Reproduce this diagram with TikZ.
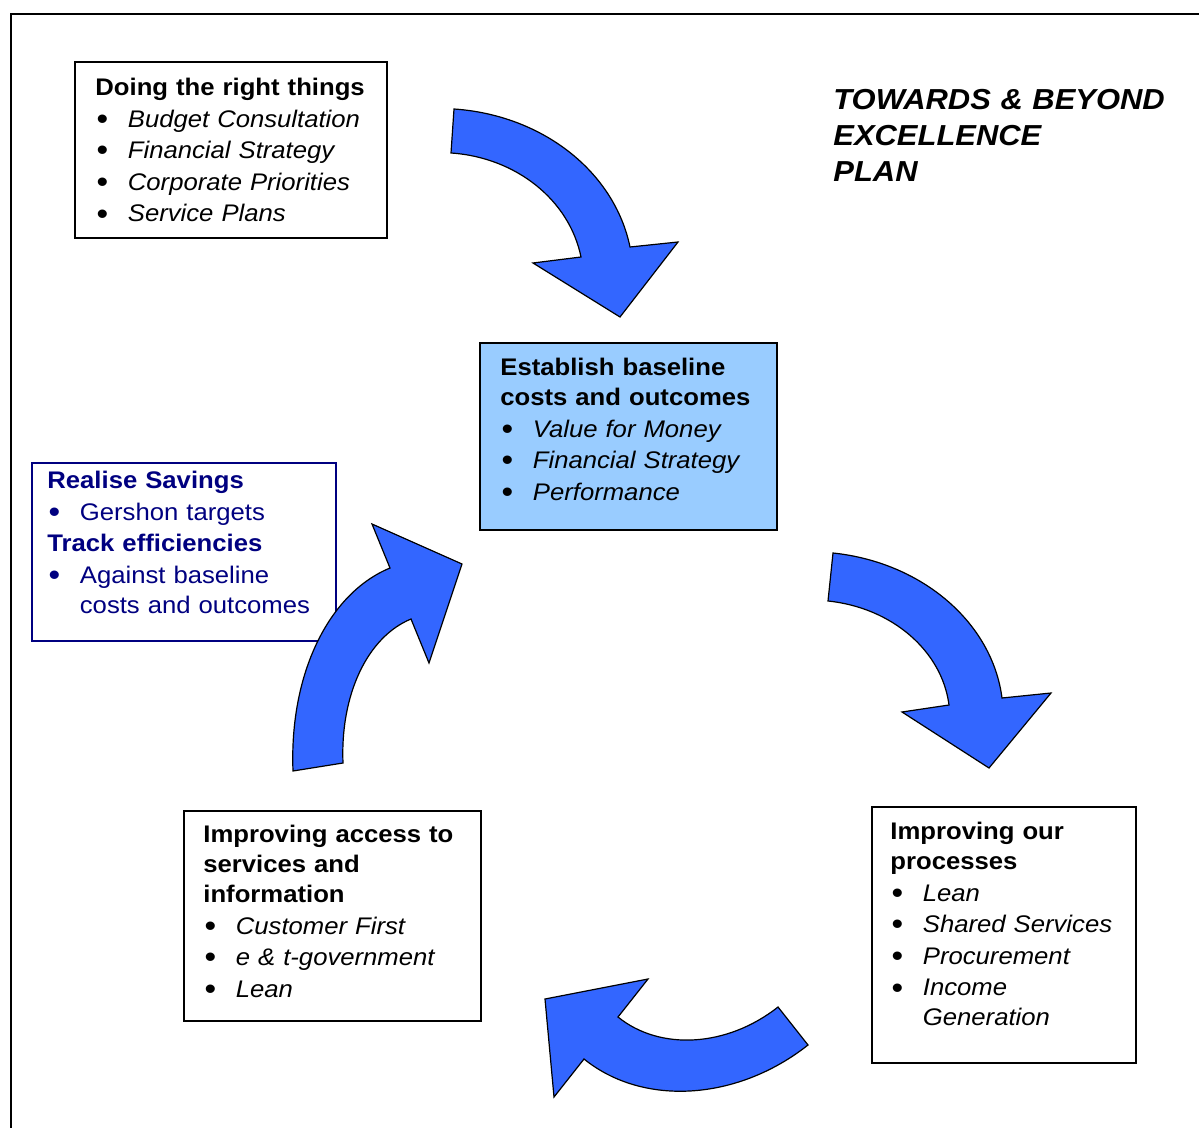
\documentclass[tikz,border=0pt]{standalone}
\usepackage{fontspec}
\setmainfont{Liberation Sans}[FakeStretch=1.07]
\usepackage{xcolor}
\definecolor{tbblue}{RGB}{51,102,255}
\definecolor{tbpale}{RGB}{153,204,255}
\definecolor{tbnavy}{RGB}{0,0,128}
\usepackage{tikz}

% bullet line inside a panel
\newcommand{\itm}[1]{\\[0.8pt]\makebox[16.25pt][l]{\hspace{0.6pt}\raisebox{-1.1pt}{\fontsize{15.5pt}{15pt}\selectfont •}}#1}

\begin{document}
\begin{tikzpicture}[x=0.5pt, y=-0.5pt,
  every node/.style={font=\fontsize{12pt}{15pt}\selectfont},
  panel/.style={draw, line width=0.9pt, anchor=north west, inner sep=0pt, fill=white},
  paneltext/.style={anchor=base west, inner sep=0pt, align=left, text width=150pt},
  cycarrow/.style={draw=black, line width=0.6pt, fill=tbblue, line join=miter}]
  \useasboundingbox (0,0) rectangle (1199,1128);
  % Frame
  \draw[line width=0.9pt] (11,1128) -- (11,14) -- (1199,14);

  % Panels
  \node[panel, minimum width=156pt, minimum height=88pt] (doing) at (74,61) {};
  \node[panel, minimum width=148.5pt, minimum height=93.5pt, fill=tbpale] (baseline) at (479,342) {};
  \node[panel, minimum width=152pt, minimum height=89pt, draw=tbnavy] (savings) at (31,462) {};
  \node[panel, minimum width=148.5pt, minimum height=105pt] (access) at (183,810) {};
  \node[panel, minimum width=132pt, minimum height=128pt] (process) at (871,806) {};

  % Panel texts
  \node[paneltext] (doing-txt) at (95,95.5) {\textbf{Doing the right things}
    \itm{\textit{Budget Consultation}}
    \itm{\textit{Financial Strategy}}
    \itm{\textit{Corporate Priorities}}
    \itm{\textit{Service Plans}}};
  \node[paneltext] (baseline-txt) at (500,375.5) {\textbf{Establish baseline}\\\textbf{costs and outcomes}
    \itm{\textit{Value for Money}}
    \itm{\textit{Financial Strategy}}
    \itm{\textit{Performance}}};
  \node[paneltext, text=tbnavy] (savings-txt) at (47,488.5) {\textbf{Realise Savings}
    \itm{Gershon targets}\\[0.8pt]\textbf{Track efficiencies}
    \itm{Against baseline}\\\hspace*{16.25pt}costs and outcomes};
  \node[paneltext] (access-txt) at (203,842.5) {\textbf{Improving access to}\\\textbf{services and}\\\textbf{information}
    \itm{\textit{Customer First}}
    \itm{\textit{e \& t-government}}
    \itm{\textit{Lean}}};
  \node[paneltext] (process-txt) at (890,839.5) {\textbf{Improving our}\\\textbf{processes}
    \itm{\textit{Lean}}
    \itm{\textit{Shared Services}}
    \itm{\textit{Procurement}}
    \itm{\textit{Income}}\\\hspace*{16.25pt}\textit{Generation}};

  % Title
  \node[paneltext, text width=190pt, font=\bfseries\itshape\fontsize{14.45pt}{18pt}\selectfont]
    (title) at (833,110) {TOWARDS \& BEYOND\\EXCELLENCE\\PLAN};

  % Cycle arrows
  \draw[cycarrow] (454,109) .. controls (542.3,115) and (614.4,171.6) .. (630,247)
    -- (678,242) -- (620,317) -- (533,263) -- (581,257)
    .. controls (569.4,200.1) and (516.1,157.4) .. (451,153) -- cycle;
  \draw[cycarrow] (833,553) .. controls (922,562.3) and (992.2,622.5) .. (1002,698)
    -- (1051,693) -- (989,768) -- (902,712) -- (949,705)
    .. controls (942,650.8) and (891.8,607.6) .. (828,601) -- cycle;
  \draw[cycarrow] (808,1045) .. controls (737.2,1100.9) and (643.1,1106.8) .. (584,1059)
    -- (554,1097) -- (545,999) -- (648,979) -- (618,1017)
    .. controls (660.2,1051.2) and (727.4,1047) .. (778,1007) -- cycle;
  \draw[cycarrow] (293,771) .. controls (289.2,675) and (328,593.6) .. (390,568)
    -- (372,524) -- (462,564) -- (429,663) -- (411,619)
    .. controls (367.4,637) and (340.2,694.6) .. (343,763) -- cycle;
\end{tikzpicture}
\end{document}
